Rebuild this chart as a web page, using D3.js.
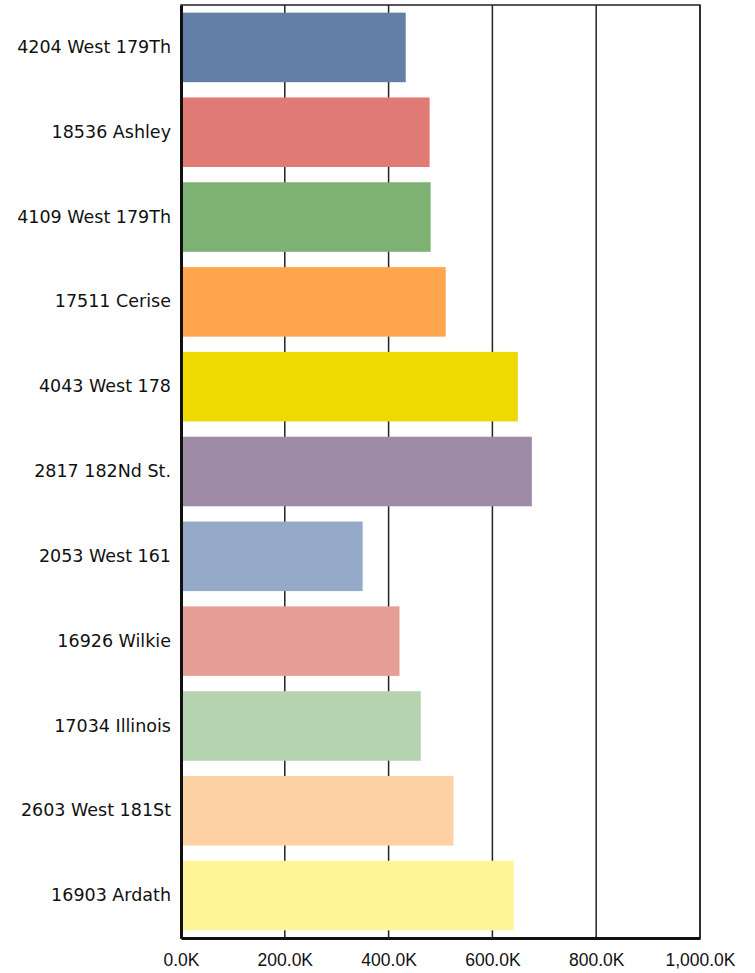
<!DOCTYPE html>
<html>
<head>
<meta charset="utf-8">
<script src="https://cdn.jsdelivr.net/npm/d3@7"></script>
<style>
  body { margin: 0; background: #fff; }
  text { fill: #111; }
</style>
</head>
<body>
<div class="container"></div>
<script>
var svgWidth = 755;
var svgHeight = 973;

var chartMargin = {
    top: 5,
    bottom: 35,
    left: 181,
    right: 55
};

var chartWidth = svgWidth - (chartMargin.left + chartMargin.right);
var chartHeight = svgHeight - (chartMargin.top + chartMargin.bottom);

// data
var addresses = ["4204 West 179Th", "18536 Ashley", "4109 West 179Th", "17511 Cerise",
    "4043 West 178", "2817 182Nd St.", "2053 West 161", "16926 Wilkie",
    "17034 Illinois", "2603 West 181St", "16903 Ardath"];
var values = [433000, 479000, 481000, 510000, 649000, 676000, 350000, 421000, 462000, 525000, 641000];
var barColors = ["#647fa6", "#e07a74", "#7db274", "#ffa64d", "#eed900", "#9e8ba6",
    "#95aac8", "#e69f96", "#b5d3af", "#fed2a5", "#fff597"];
var xTicks = [0, 200000, 400000, 600000, 800000, 1000000];

var svg = d3.select(".container")
    .append("svg")
    .attr("width", svgWidth)
    .attr("height", svgHeight);

var chartGroup = svg.append("g")
    .attr("transform", `translate(${chartMargin.left}, ${chartMargin.top})`);

var xLinearScale = d3.scaleLinear()
    .domain([0, 1000000])
    .range([0, chartWidth]);

var yBandScale = d3.scaleBand()
    .domain(addresses)
    .range([0, chartHeight])
    .paddingInner(0.18)
    .paddingOuter(0.09);

// frame (top + right)
chartGroup.append("rect")
    .attr("x", 0).attr("y", 0)
    .attr("width", chartWidth).attr("height", chartHeight)
    .attr("fill", "none")
    .attr("stroke", "#222")
    .attr("stroke-width", 1.5);

// gridlines
chartGroup.selectAll(".grid")
    .data(xTicks.slice(1))
    .enter()
    .append("line")
    .attr("x1", d => xLinearScale(d))
    .attr("x2", d => xLinearScale(d))
    .attr("y1", 0)
    .attr("y2", chartHeight)
    .attr("stroke", "#222")
    .attr("stroke-width", 1.5);

// bars
chartGroup.selectAll(".bar")
    .data(addresses)
    .enter()
    .append("rect")
    .classed("bar", true)
    .attr("x", 0)
    .attr("y", d => yBandScale(d))
    .attr("height", yBandScale.bandwidth())
    .attr("width", (d, i) => xLinearScale(values[i]))
    .attr("fill", (d, i) => barColors[i]);

var bottomAxis = d3.axisBottom(xLinearScale)
    .tickValues(xTicks)
    .tickSize(0)
    .tickPadding(16)
    .tickFormat(d => d3.format(",.1f")(d / 1000) + "K");

var leftAxis = d3.axisLeft(yBandScale)
    .tickSize(0)
    .tickPadding(10);

var xAxisG = chartGroup.append("g")
    .attr("transform", `translate(0, ${chartHeight})`)
    .call(bottomAxis);
xAxisG.select(".domain").attr("stroke", "#111").attr("stroke-width", 3);
xAxisG.selectAll("text")
    .style("font-size", "17.5px")
    .style("font-family", "'Liberation Sans', Arial, sans-serif")
    .attr("fill", "#111");

var yAxisG = chartGroup.append("g")
    .call(leftAxis);
yAxisG.select(".domain").attr("stroke", "#111").attr("stroke-width", 3);
yAxisG.selectAll("text")
    .style("font-size", "17.5px")
    .style("font-family", "'DejaVu Sans', Verdana, sans-serif")
    .attr("fill", "#111");
</script>
</body>
</html>
